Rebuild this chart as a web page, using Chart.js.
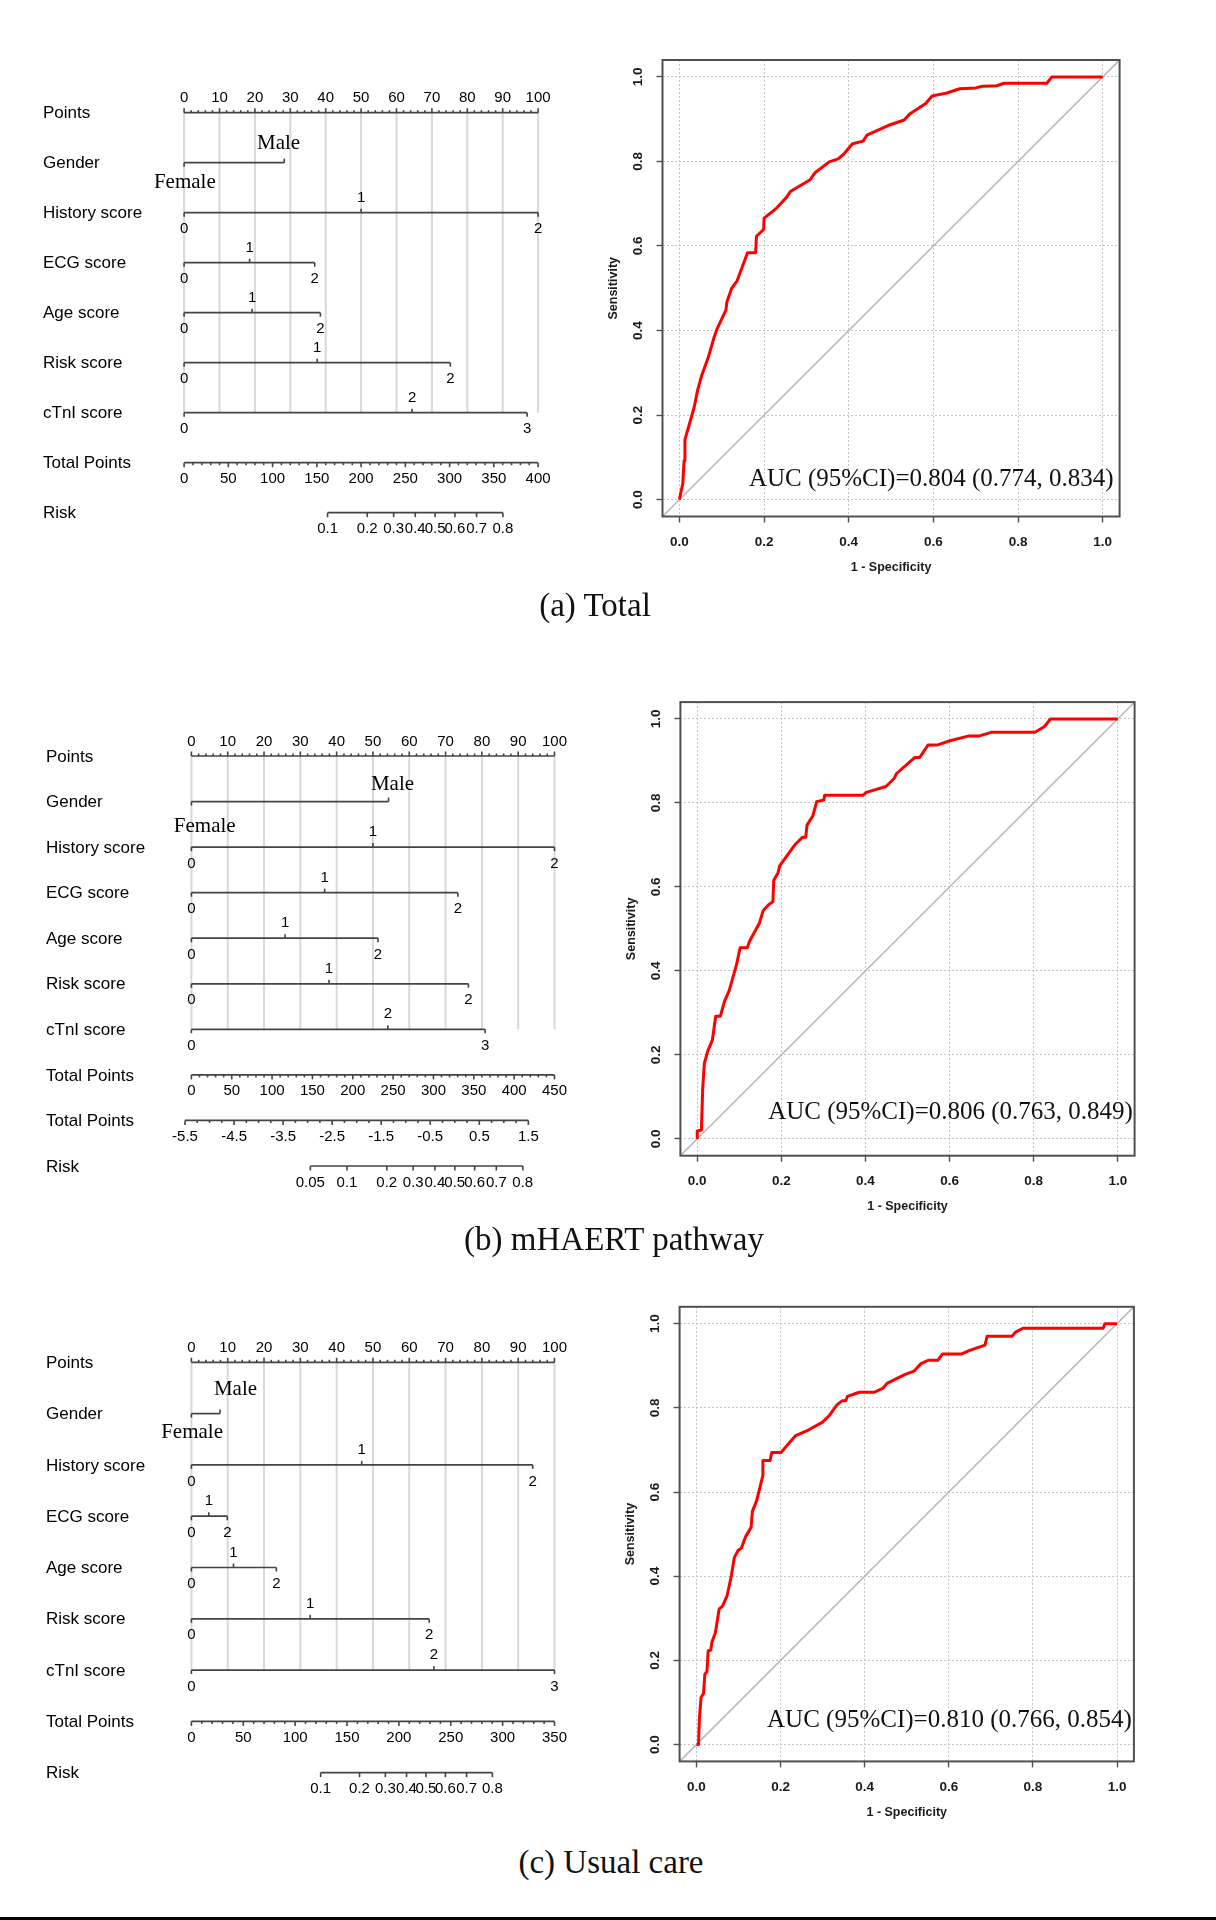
<!DOCTYPE html>
<html>
<head>
<meta charset="utf-8">
<script src="https://cdn.jsdelivr.net/npm/chart.js@4.4.0/dist/chart.umd.min.js"></script>
<style>
  html, body { margin: 0; padding: 0; background: #fff; }
  #page { position: relative; width: 1216px; height: 1920px; overflow: hidden; background: #fff; }
  canvas { position: absolute; }
  .cap { position: absolute; font-family: "Liberation Serif", "Times New Roman", serif; font-size: 33px;
         line-height: 38px; color: #111; white-space: nowrap; transform: translateX(-50%); }
  #barB { position: absolute; left: 0; top: 1917px; width: 1216px; height: 3px; background: #000; }
</style>
</head>
<body>
<div id="page">
  <canvas id="nomoA" width="600" height="500" style="left:0px;top:60px"></canvas>
  <canvas id="rocA" width="580" height="600" style="left:590px;top:30px"></canvas>
  <div class="cap" style="left:595px;top:586px">(a) Total</div>

  <canvas id="nomoB" width="600" height="520" style="left:0px;top:700px"></canvas>
  <canvas id="rocB" width="580" height="560" style="left:600px;top:680px"></canvas>
  <div class="cap" style="left:614px;top:1220px">(b) mHAERT pathway</div>

  <canvas id="nomoC" width="600" height="510" style="left:0px;top:1310px"></canvas>
  <canvas id="rocC" width="580" height="540" style="left:600px;top:1290px"></canvas>
  <div class="cap" style="left:611px;top:1843px">(c) Usual care</div>

  <div id="barB"></div>
</div>
<script>
// ---------- nomogram data (points scale 0-100) ----------
var ptsTicks = [0, 10, 20, 30, 40, 50, 60, 70, 80, 90, 100];
var genderLabels = ["Female", "Male"];
var scoreLabels = ["0", "1", "2"];
var ctniLabels = ["0", "2", "3"];

// (a) Total
var aGender = [0, 28.3];
var aHistory = [0, 50, 100];
var aEcg = [0, 18.5, 36.9];
var aAge = [0, 19.2, 38.5];
var aRiskScore = [0, 37.6, 75.2];
var aCtni = [0, 64.4, 96.9];
var aTotalTicks = [0, 50, 100, 150, 200, 250, 300, 350, 400];
var aRiskTicks = [0.1, 0.2, 0.3, 0.4, 0.5, 0.6, 0.7, 0.8];

// (b) mHAERT pathway
var bGender = [0, 54.3];
var bHistory = [0, 50, 100];
var bEcg = [0, 36.7, 73.4];
var bAge = [0, 25.8, 51.4];
var bRiskScore = [0, 37.9, 76.3];
var bCtni = [0, 54.1, 80.9];
var bTotalTicks = [0, 50, 100, 150, 200, 250, 300, 350, 400, 450];
var bLpTicks = [-5.5, -4.5, -3.5, -2.5, -1.5, -0.5, 0.5, 1.5];
var bRiskTicks = [0.05, 0.1, 0.2, 0.3, 0.4, 0.5, 0.6, 0.7, 0.8];

// (c) Usual care
var cGender = [0, 7.9];
var cHistory = [0, 46.9, 94.0];
var cEcg = [0, 4.8, 9.9];
var cAge = [0, 11.6, 23.4];
var cRiskScore = [0, 32.7, 65.5];
var cCtni = [0, 66.8, 100];
var cTotalTicks = [0, 50, 100, 150, 200, 250, 300, 350];
var cRiskTicks = [0.1, 0.2, 0.3, 0.4, 0.5, 0.6, 0.7, 0.8];

// ---------- ROC data ----------
var rocTicks = [0, 0.2, 0.4, 0.6, 0.8, 1.0];
var rocTickLabels = ["0.0", "0.2", "0.4", "0.6", "0.8", "1.0"];
var diagLine = [-0.04, 1.04];

var rocA_fpr = [0,0.003,0.008,0.011,0.013,0.022,0.035,0.043,0.053,0.068,0.081,0.089,0.110,0.112,0.123,0.136,0.161,0.180,0.182,0.199,0.200,0.228,0.253,0.262,0.308,0.321,0.354,0.375,0.388,0.409,0.434,0.443,0.493,0.531,0.544,0.582,0.597,0.632,0.662,0.700,0.716,0.750,0.767,0.868,0.880,1.0];
var rocA_tpr = [0,0.015,0.038,0.092,0.142,0.173,0.219,0.259,0.295,0.336,0.381,0.404,0.449,0.467,0.499,0.517,0.584,0.584,0.623,0.639,0.666,0.688,0.715,0.729,0.756,0.774,0.799,0.806,0.817,0.842,0.848,0.862,0.885,0.898,0.912,0.937,0.955,0.962,0.972,0.974,0.978,0.979,0.985,0.985,1.0,1.0];
var aucA = "AUC (95%CI)=0.804 (0.774, 0.834)";

var rocB_fpr = [0,0,0.010,0.013,0.017,0.025,0.036,0.044,0.055,0.065,0.076,0.093,0.102,0.119,0.125,0.148,0.157,0.169,0.180,0.182,0.192,0.196,0.233,0.250,0.258,0.261,0.275,0.284,0.301,0.303,0.394,0.402,0.449,0.468,0.474,0.517,0.529,0.549,0.572,0.601,0.644,0.669,0.699,0.803,0.826,0.840,1];
var rocB_tpr = [0,0.019,0.021,0.120,0.180,0.209,0.235,0.292,0.292,0.328,0.353,0.413,0.455,0.455,0.472,0.514,0.544,0.557,0.565,0.616,0.633,0.650,0.701,0.718,0.718,0.747,0.769,0.803,0.807,0.818,0.818,0.825,0.839,0.858,0.870,0.908,0.908,0.938,0.938,0.948,0.959,0.959,0.968,0.968,0.982,1,1];
var aucB = "AUC (95%CI)=0.806 (0.763, 0.849)";

var rocC_fpr = [0,0.005,0.007,0.011,0.017,0.020,0.025,0.028,0.034,0.037,0.045,0.054,0.062,0.073,0.083,0.090,0.099,0.107,0.117,0.130,0.133,0.143,0.158,0.158,0.175,0.179,0.201,0.236,0.262,0.300,0.317,0.334,0.347,0.355,0.359,0.387,0.423,0.444,0.453,0.495,0.517,0.534,0.551,0.574,0.585,0.631,0.648,0.686,0.691,0.750,0.759,0.776,0.967,0.971,1];
var rocC_tpr = [0,0,0.061,0.112,0.122,0.167,0.173,0.223,0.224,0.244,0.265,0.322,0.329,0.354,0.401,0.444,0.461,0.467,0.494,0.516,0.554,0.579,0.639,0.675,0.675,0.694,0.694,0.734,0.745,0.766,0.783,0.807,0.817,0.817,0.827,0.837,0.837,0.847,0.858,0.879,0.887,0.905,0.913,0.913,0.928,0.928,0.936,0.949,0.970,0.970,0.980,0.989,0.989,1,1];
var aucC = "AUC (95%CI)=0.810 (0.766, 0.854)";

// ---------- styles ----------
var SANS = '"Liberation Sans", Arial, sans-serif';
var SERIF = '"Liberation Serif", "Times New Roman", serif';
var INK = '#000';
var LINE = '#444';
var GRID = '#d8d8d8';

function logit(r) { return Math.log(r / (1 - r)); }

function factorRow(name, vals, labels) { return { kind: 'factor', name: name, vals: vals, labels: labels }; }

var nomoA = {
  id: 'nomoA', left: 0, labelX: 43,
  pad: { left: 184.1, right: 61.9, top: 52.7, bottom: 47.3 },
  genderDx: [0.7, -5.7], genderDy: [20.2, 18.8],
  totalTicks: aTotalTicks, riskTicks: aRiskTicks, riskMid: 283.6, riskSlope: 55.3,
  rows: [
    { kind: 'points', name: 'Points' },
    factorRow('Gender', aGender, genderLabels),
    factorRow('History score', aHistory, scoreLabels),
    factorRow('ECG score', aEcg, scoreLabels),
    factorRow('Age score', aAge, scoreLabels),
    factorRow('Risk score', aRiskScore, scoreLabels),
    factorRow('cTnI score', aCtni, ctniLabels),
    { kind: 'total', name: 'Total Points' },
    { kind: 'risk', name: 'Risk' }
  ]
};
var nomoB = {
  id: 'nomoB', left: 0, labelX: 46,
  pad: { left: 191.4, right: 45.5, top: 56, bottom: 54 },
  genderDx: [13.3, 3.9], genderDy: [25, 16.7],
  totalTicks: bTotalTicks, riskTicks: bRiskTicks,
  lpTicks: bLpTicks, lpAt: [-1.76, 92.8],
  rows: [
    { kind: 'points', name: 'Points' },
    factorRow('Gender', bGender, genderLabels),
    factorRow('History score', bHistory, scoreLabels),
    factorRow('ECG score', bEcg, scoreLabels),
    factorRow('Age score', bAge, scoreLabels),
    factorRow('Risk score', bRiskScore, scoreLabels),
    factorRow('cTnI score', bCtni, ctniLabels),
    { kind: 'total', name: 'Total Points' },
    { kind: 'lp', name: 'Total Points' },
    { kind: 'risk', name: 'Risk' }
  ]
};
var nomoC = {
  id: 'nomoC', left: 0, labelX: 46,
  pad: { left: 191.4, right: 45.5, top: 52.3, bottom: 47.3 },
  genderDx: [0.7, 15.4], genderDy: [18.6, 24],
  totalTicks: cTotalTicks, riskTicks: cRiskTicks, riskMid: 226.1, riskSlope: 46.2,
  rows: [
    { kind: 'points', name: 'Points' },
    factorRow('Gender', cGender, genderLabels),
    factorRow('History score', cHistory, scoreLabels),
    factorRow('ECG score', cEcg, scoreLabels),
    factorRow('Age score', cAge, scoreLabels),
    factorRow('Risk score', cRiskScore, scoreLabels),
    factorRow('cTnI score', cCtni, ctniLabels),
    { kind: 'total', name: 'Total Points' },
    { kind: 'risk', name: 'Risk' }
  ]
};

// total points -> points scale
function tpToPts(p, v) { return v * 100 / p.totalTicks[p.totalTicks.length - 1]; }
function lpToPts(p, v) {
  var l0 = p.lpTicks[0], l1 = p.lpTicks[p.lpTicks.length - 1];
  return p.lpAt[0] + (v - l0) / (l1 - l0) * (p.lpAt[1] - p.lpAt[0]);
}
function riskToPts(p, r) {
  if (p.lpTicks) return lpToPts(p, logit(r));
  return tpToPts(p, p.riskMid + p.riskSlope * logit(r));
}
function rowEnds(p, r) {
  if (r.kind === 'factor') return [r.vals[0], r.vals[r.vals.length - 1]];
  if (r.kind === 'lp') return [lpToPts(p, p.lpTicks[0]), lpToPts(p, p.lpTicks[p.lpTicks.length - 1])];
  if (r.kind === 'risk') return [riskToPts(p, p.riskTicks[0]), riskToPts(p, p.riskTicks[p.riskTicks.length - 1])];
  return [0, 100];
}

function seg(x1, y1, x2, y2, color, width) {
  return { data: [{ x: x1, y: y1 }, { x: x2, y: y2 }], showLine: true, borderColor: color,
           borderWidth: width, pointRadius: 0, clip: false, borderCapStyle: 'butt' };
}

function fmt(v) { return String(v); }

function nomoPlugin(p) {
  return {
    id: 'nomoText',
    afterDatasetsDraw: function (chart) {
      var ctx = chart.ctx, xs = chart.scales.x, ys = chart.scales.y;
      function X(v) { return xs.getPixelForValue(v); }
      function tick(x, y, len) {
        ctx.beginPath(); ctx.moveTo(x, y); ctx.lineTo(x, y + len); ctx.stroke();
      }
      function text(s, x, y, font) {
        ctx.font = font; ctx.fillText(s, x, y);
      }
      ctx.save();
      ctx.strokeStyle = LINE; ctx.lineWidth = 1.6; ctx.fillStyle = INK;
      ctx.textBaseline = 'middle';
      p.rows.forEach(function (r, i) {
        var y = ys.getPixelForValue(i);
        ctx.textAlign = 'left';
        text(r.name, p.labelX - p.left, y + 1, '17px ' + SANS);
        ctx.textAlign = 'center';
        var v;
        if (r.kind === 'points') {
          for (v = 0; v <= 100; v += 2) tick(X(v), y, v % 10 === 0 ? -4.5 : -2.5);
          ptsTicks.forEach(function (t) { text(fmt(t), X(t), y - 14.5, '15px ' + SANS); });
        } else if (r.kind === 'factor') {
          r.vals.forEach(function (val, k) {
            var up = (k % 2 === 1);
            tick(X(val), y, up ? -4 : 4);
            if (r.name === 'Gender') {
              text(r.labels[k], X(val) + p.genderDx[k], up ? y - p.genderDy[k] : y + p.genderDy[k], '21px ' + SERIF);
            } else {
              text(r.labels[k], X(val), up ? y - 15 : y + 16.5, '15px ' + SANS);
            }
          });
        } else if (r.kind === 'total') {
          var tmax = p.totalTicks[p.totalTicks.length - 1];
          for (v = 0; v <= tmax; v += 10) tick(X(tpToPts(p, v)), y, v % 50 === 0 ? 4.5 : 2.5);
          p.totalTicks.forEach(function (t) { text(fmt(t), X(tpToPts(p, t)), y + 16, '15px ' + SANS); });
        } else if (r.kind === 'lp') {
          var l0 = p.lpTicks[0], l1 = p.lpTicks[p.lpTicks.length - 1];
          for (v = l0; v <= l1 + 1e-9; v += 0.25) {
            var isLab = Math.abs((v - l0) % 1) < 1e-6;
            tick(X(lpToPts(p, v)), y, isLab ? 4.5 : 2.5);
          }
          p.lpTicks.forEach(function (t) { text(fmt(t), X(lpToPts(p, t)), y + 16, '15px ' + SANS); });
        } else if (r.kind === 'risk') {
          p.riskTicks.forEach(function (t) {
            tick(X(riskToPts(p, t)), y, 4.5);
            text(fmt(t), X(riskToPts(p, t)), y + 16.5, '15px ' + SANS);
          });
        }
      });
      ctx.restore();
    }
  };
}

function makeNomogram(p) {
  var ds = [];
  var gridTo = 0;
  p.rows.forEach(function (r, i) {
    var e = rowEnds(p, r);
    ds.push(seg(e[0], i, e[1], i, LINE, 1.7));
    if (r.kind === 'factor') gridTo = i;
  });
  ptsTicks.forEach(function (v) { ds.push(seg(v, 0, v, gridTo, GRID, 2)); });
  new Chart(document.getElementById(p.id), {
    type: 'scatter',
    data: { datasets: ds },
    options: {
      responsive: false, animation: false, events: [],
      layout: { padding: p.pad },
      plugins: { legend: { display: false }, tooltip: { enabled: false } },
      scales: {
        x: { type: 'linear', min: 0, max: 100, display: false },
        y: { type: 'linear', min: 0, max: p.rows.length - 1, reverse: true, display: false }
      }
    },
    plugins: [nomoPlugin(p)]
  });
}

function rocPlugin(p) {
  return {
    id: 'rocText',
    afterDatasetsDraw: function (chart) {
      var ctx = chart.ctx, a = chart.chartArea, xs = chart.scales.x, ys = chart.scales.y;
      ctx.save();
      ctx.strokeStyle = '#505050'; ctx.lineWidth = 2;
      ctx.strokeRect(a.left, a.top, a.right - a.left, a.bottom - a.top);
      ctx.fillStyle = '#1a1a1a';
      ctx.font = 'bold 13.5px ' + SANS;
      ctx.textAlign = 'center'; ctx.textBaseline = 'middle';
      rocTicks.forEach(function (v, i) {
        ctx.fillText(rocTickLabels[i], xs.getPixelForValue(v), a.bottom + 25.5);
        ctx.save();
        ctx.translate(a.left - 24, ys.getPixelForValue(v));
        ctx.rotate(-Math.PI / 2);
        ctx.fillText(rocTickLabels[i], 0, 0);
        ctx.restore();
      });
      ctx.font = 'bold 12.5px ' + SANS;
      ctx.fillText('1 - Specificity', (xs.getPixelForValue(0) + xs.getPixelForValue(1)) / 2, a.bottom + 51);
      ctx.save();
      ctx.translate(a.left - 49, (ys.getPixelForValue(0) + ys.getPixelForValue(1)) / 2);
      ctx.rotate(-Math.PI / 2);
      ctx.fillText('Sensitivity', 0, 0);
      ctx.restore();
      ctx.font = '25px ' + SERIF;
      ctx.fillStyle = '#111';
      ctx.textAlign = 'right';
      ctx.fillText(p.auc, xs.getPixelForValue(p.aucAt[0]), ys.getPixelForValue(p.aucAt[1]));
      ctx.restore();
    }
  };
}

function rocAxis(sizeFn) {
  return {
    type: 'linear', min: -0.04, max: 1.04,
    afterBuildTicks: function (axis) { axis.ticks = rocTicks.map(function (v) { return { value: v }; }); },
    afterFit: sizeFn,
    ticks: { display: false },
    grid: { color: '#c4c4c4', lineWidth: 1, drawTicks: true, tickLength: 6, tickColor: '#505050', tickWidth: 1.4 },
    border: { display: false, dash: [2, 2] }
  };
}

function makeRoc(p) {
  var pts = p.fpr.map(function (x, i) { return { x: x, y: p.tpr[i] }; });
  new Chart(document.getElementById(p.id), {
    type: 'scatter',
    data: {
      datasets: [
        { data: pts, showLine: true, borderColor: '#ff0000', borderWidth: 3, pointRadius: 0,
          tension: 0, borderJoinStyle: 'round', clip: false },
        { data: diagLine.map(function (v) { return { x: v, y: v }; }), showLine: true,
          borderColor: '#b8b8b8', borderWidth: 1.5, pointRadius: 0 }
      ]
    },
    options: {
      responsive: false, animation: false, events: [],
      layout: { padding: { top: p.padTop, right: p.padRight, left: 0, bottom: 0 } },
      plugins: { legend: { display: false }, tooltip: { enabled: false } },
      scales: {
        x: rocAxis(function (s) { s.height = p.xH; }),
        y: rocAxis(function (s) { s.width = p.yW; })
      }
    },
    plugins: [rocPlugin(p)]
  });
}

makeNomogram(nomoA);
makeNomogram(nomoB);
makeNomogram(nomoC);

makeRoc({ id: 'rocA', fpr: rocA_fpr, tpr: rocA_tpr, auc: aucA, aucAt: [1.026, 0.047],
          padTop: 30, padRight: 50.4, yW: 72.5, xH: 113.5 });
makeRoc({ id: 'rocB', fpr: rocB_fpr, tpr: rocB_tpr, auc: aucB, aucAt: [1.036, 0.063],
          padTop: 22.1, padRight: 45.4, yW: 80.4, xH: 84.3 });
makeRoc({ id: 'rocC', fpr: rocC_fpr, tpr: rocC_tpr, auc: aucC, aucAt: [1.035, 0.057],
          padTop: 16.8, padRight: 46.1, yW: 79.6, xH: 68.6 });
</script>
</body>
</html>
